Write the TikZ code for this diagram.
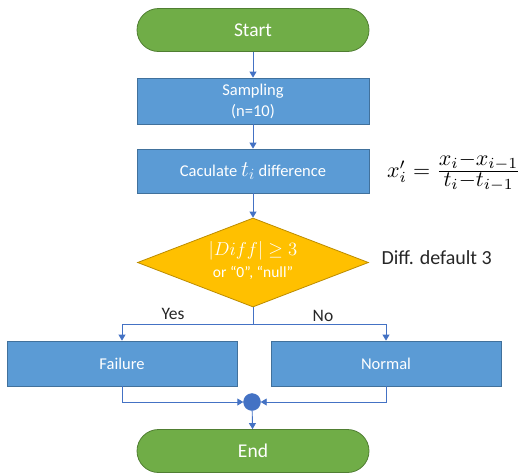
\documentclass[tikz,border=0pt]{standalone}
\usepackage{graphicx}
\usepackage{fontspec}
\setmainfont{Carlito}
\usetikzlibrary{shapes.geometric,arrows.meta}
\definecolor{boxblue}{HTML}{5B9BD5}
\definecolor{boxedge}{HTML}{41719C}
\definecolor{arrowblue}{HTML}{4472C4}
\definecolor{termgreen}{HTML}{70AD47}
\definecolor{termedge}{HTML}{507E32}
\definecolor{decyellow}{HTML}{FFC000}
\definecolor{decedge}{HTML}{BC8C00}
\begin{document}
\begin{tikzpicture}[x=1pt,y=-1pt,
  term/.style={draw=termedge,fill=termgreen,rectangle,rounded corners=21.5pt,minimum width=232pt,minimum height=43pt,text=white,font=\fontsize{19.5}{22}\selectfont,line width=0.8pt},
  procbox/.style={draw=boxedge,fill=boxblue,rectangle,minimum width=232pt,minimum height=46pt,text=white,font=\fontsize{16.5}{21}\selectfont,align=center,line width=0.8pt},
  decision/.style={draw=decedge,fill=decyellow,diamond,aspect=2.6,minimum width=231pt,minimum height=89pt,inner sep=0pt,line width=0.8pt},
  dectxt/.style={text=white,inner sep=0pt,font=\fontsize{15.5}{18}\selectfont},
  conn/.style={draw=arrowblue,line width=0.9pt,-{Triangle[width=7pt,length=6pt]}},
  line/.style={draw=arrowblue,line width=0.9pt},
  lbl/.style={font=\fontsize{20}{23}\selectfont,text=black!85}
]
\useasboundingbox (0,0) rectangle (518,472);
\node[term] (start) at (253,30) {Start};
\node[procbox] (samp) at (253,101) {Sampling\\(n=10)};
\node[procbox,minimum height=44pt] (calc) at (253,171) {Caculate \scalebox{1.3}{$t_i$} difference};
\node[decision] (dec) at (253,262.5) {};
\node[dectxt] (dtop) at (253,251) {\scalebox{1.3}{$|Diff|\geq 3$}};
\node[dectxt] (dbot) at (253,273) {or “0”, “null”};
\node (formula) at (454,172) {\scalebox{2.2}{$x_i'=\frac{\textstyle x_i{-}x_{i-1}}{\textstyle t_i{-}t_{i-1}}$}};
\node[lbl,anchor=west] (diffdef) at (378,258) {Diff. default 3};
\node[procbox,minimum width=230pt,minimum height=45pt] (fail) at (122,363.5) {Failure};
\node[procbox,minimum width=230pt,minimum height=45pt] (norm) at (386,363.5) {Normal};
\node[circle,fill=arrowblue,draw=arrowblue,minimum size=17pt,inner sep=0pt] (join) at (252,402) {};
\node[term] (end) at (253,451) {End};
\node[lbl,font=\fontsize{17.5}{20}\selectfont] (yes) at (173,314) {Yes};
\node[lbl,font=\fontsize{17.5}{20}\selectfont] (no) at (323,316) {No};
\coordinate (split) at (253,324);
\draw[conn] (start) -- (samp);
\draw[conn] (samp) -- (calc);
\draw[conn] (calc) -- (dec);
\draw[line] (dec.south) -- (split);
\draw[conn] (split) -| (fail.north);
\draw[conn] (split) -| (norm.north);
\draw[conn] (fail.south) |- (join.west);
\draw[conn] (norm.south) |- (join.east);
\draw[conn] (join) -- (end);
\end{tikzpicture}
\end{document}
